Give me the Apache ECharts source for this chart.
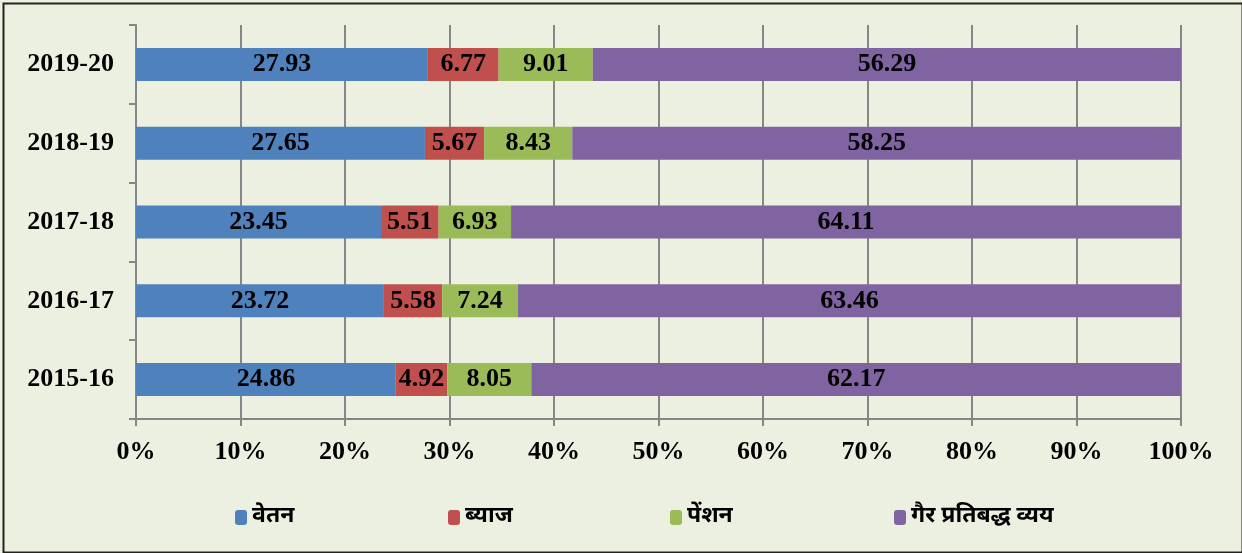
<!DOCTYPE html>
<html>
<head>
<meta charset="utf-8">
<script src="https://cdn.jsdelivr.net/npm/echarts@6/dist/echarts.min.js"></script>
<style>
html,body{margin:0;padding:0;background:#ffffff;}
#chart{width:1242px;height:553px;}
</style>
</head>
<body>
<div id="chart"></div>
<script>
const categories = ['2015-16','2016-17','2017-18','2018-19','2019-20'];
const seriesNames = ['वेतन','ब्याज','पेंशन','गैर प्रतिबद्ध व्यय'];
const salary = [24.86, 23.72, 23.45, 27.65, 27.93];
const interest = [4.92, 5.58, 5.51, 5.67, 6.77];
const pension = [8.05, 7.24, 6.93, 8.43, 9.01];
const nonCommitted = [62.17, 63.46, 64.11, 58.25, 56.29];
const xTicks = ['0%','10%','20%','30%','40%','50%','60%','70%','80%','90%','100%'];

const colors = ['#4F81BD','#C0504D','#9BBB59','#8064A2'];
const allData = [salary, interest, pension, nonCommitted];
const serif = '"Liberation Serif", serif';
const deva = '"Noto Sans Devanagari", "Lohit Devanagari", "Noto Sans", sans-serif';

const chart = echarts.init(document.getElementById('chart'));
const legendLefts = [230, 443, 665, 889];
const option = {
  backgroundColor: '#ECF0E1',
  animation: false,
  grid: {left: 136, right: 61, top: 25, bottom: 134},
  xAxis: {
    type: 'value', min: 0, max: 100, interval: 10,
    axisLine: {show: true, lineStyle: {color: '#868686', width: 2}},
    axisTick: {show: true, length: 7, lineStyle: {color: '#868686', width: 2}},
    splitLine: {show: true, lineStyle: {color: '#868686', width: 2}},
    axisLabel: {
      margin: 20,
      formatter: function(v){ return xTicks[Math.round(v/10)]; },
      color: '#000', fontFamily: serif, fontWeight: 'bold', fontSize: 26
    }
  },
  yAxis: {
    type: 'category', data: categories,
    axisLine: {show: true, lineStyle: {color: '#868686', width: 2}},
    axisTick: {show: true, length: 7, alignWithLabel: false, lineStyle: {color: '#868686', width: 2}},
    axisLabel: {margin: 22, color: '#000', fontFamily: serif, fontWeight: 'bold', fontSize: 26}
  },
  legend: seriesNames.map(function(n, i){
    return {
      data: [n], left: legendLefts[i], top: 501,
      itemWidth: 12, itemHeight: 15, itemGap: 6,
      textStyle: {color: '#000', fontFamily: deva, fontWeight: 'bold', fontSize: 23}
    };
  }),
  series: seriesNames.map(function(n, i){
    return {
      name: n, type: 'bar', stack: 'total',
      data: allData[i], barWidth: 33,
      itemStyle: {color: colors[i]},
      label: {
        show: true, position: 'inside', color: '#000',
        fontFamily: serif, fontWeight: 'bold', fontSize: 26,
        formatter: function(p){ return p.value.toFixed(2); }
      }
    };
  }),
  graphic: [{
    type: 'rect', left: 1, top: 1,
    shape: {x: 1, y: 1, width: 1239, height: 549},
    style: {fill: 'none', stroke: '#222', lineWidth: 2}
  }]
};
chart.setOption(option);
</script>
</body>
</html>
